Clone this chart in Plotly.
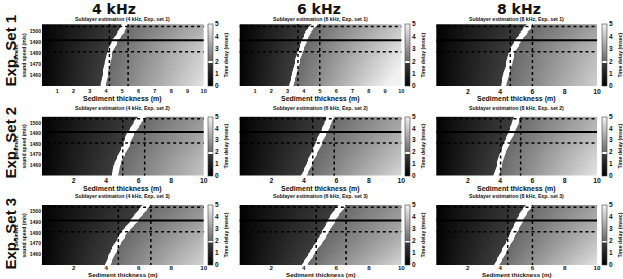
import numpy as np
import plotly.graph_objects as go
from plotly.subplots import make_subplots

# ---------------- data ----------------
freq_labels = ["4 kHz", "6 kHz", "8 kHz"]
freq_short = ["4", "6", "8"]
set_labels = ["Exp. Set 1", "Exp. Set 2", "Exp. Set 3"]

thickness = np.round(np.arange(0.05, 10.0001, 0.05), 3)      # m
speed = np.arange(1450, 1507, 1.0)                             # m/s

measured_delay = 1.95          # msec (white band in colour bar)
band_speeds = [1450, 1460, 1470, 1480, 1490, 1500, 1506]
# band centre thickness (m) at band_speeds, per panel [row][col]
band_r1c1 = [3.80, 3.93, 4.07, 4.20, 4.50, 4.95, 5.17]
band_r1c2 = [3.20, 3.40, 3.55, 3.75, 4.00, 4.30, 4.65]
band_r1c3 = [4.20, 4.35, 4.55, 4.70, 5.05, 5.55, 5.85]
band_r2c1 = [4.55, 4.65, 4.95, 5.25, 5.50, 5.90, 6.20]
band_r2c2 = [4.00, 4.30, 4.60, 4.88, 5.18, 5.48, 5.65]
band_r2c3 = [3.75, 3.95, 4.12, 4.38, 4.68, 4.92, 5.05]
band_r3c1 = [4.10, 4.35, 4.70, 5.10, 5.65, 6.15, 6.45]
band_r3c2 = [4.05, 4.45, 4.90, 5.30, 5.65, 6.05, 6.35]
band_r3c3 = [3.80, 4.13, 4.50, 4.83, 5.15, 5.50, 5.80]
bands = [[band_r1c1, band_r1c2, band_r1c3],
         [band_r2c1, band_r2c2, band_r2c3],
         [band_r3c1, band_r3c2, band_r3c3]]

# vertical dotted markers (m)
vdot_r1 = [[4.20, 5.35], [3.64, 4.98], [4.63, 6.00]]
vdot_r2 = [[5.02, 6.37], [4.55, 5.87], [4.03, 5.27]]
vdot_r3 = [[4.75, 6.75], [4.76, 6.60], [4.47, 6.00]]
vdots = [vdot_r1, vdot_r2, vdot_r3]

# horizontal reference speeds (m/s)
speed_solid = 1491.5
speed_dotted = [1481.0, 1504.0]

xticks_fine = [1, 2, 3, 4, 5, 6, 7, 8, 9, 10]
xticks_coarse = [2, 4, 6, 8, 10]
yticks = [1460, 1470, 1480, 1490, 1500]
cbar_ticks = [0, 1, 2, 3, 4, 5]

# ---------------- layout geometry ----------------
W, H = 623, 279
col_px = [(42, 204), (240, 402), (437, 598)]
row_px = [(24.3, 86), (116.7, 175.5), (205, 265)]
cbar_x_px = [208, 405, 602]
title_y_px = [18.5, 107.5, 195.5]
xtitle_y_px = [98.5, 188.5, None]

FONT = "Liberation Sans, Arial, sans-serif"
TXT = "#111111"

colorscale = [
    [0.0, "#000000"],
    [0.373, "#3c3c3c"],
    [0.377, "#ffffff"],
    [0.402, "#ffffff"],
    [0.406, "#6a6a6a"],
    [1.0, "#f2f2f2"],
]

fig = make_subplots(rows=3, cols=3)

for r in range(3):
    for c in range(3):
        hb = np.interp(speed, band_speeds, bands[r][c])
        Z = measured_delay * (thickness[None, :] / hb[:, None]) ** 0.9
        Z = np.clip(Z, 0, 5)
        y0, y1 = row_px[r]
        fig.add_trace(go.Heatmap(
            x=thickness, y=speed, z=Z, zmin=0, zmax=5,
            colorscale=colorscale,
            colorbar=dict(
                x=cbar_x_px[c] / W, xanchor="left", xpad=0,
                y=1 - (y0 + y1) / 2 / H, yanchor="middle", ypad=0,
                len=(y1 - y0) / H, lenmode="fraction",
                thickness=5, outlinewidth=0.6, outlinecolor="#444444",
                tickvals=cbar_ticks, ticks="",
                tickfont=dict(family=FONT, size=6.5, color=TXT, weight="bold"),
                title=dict(text="Time delay (msec)", side="right",
                           font=dict(family=FONT, size=5.2, color=TXT, weight="bold")),
            ),
            hoverinfo="skip",
        ), row=r + 1, col=c + 1)
        # horizontal lines
        fig.add_trace(go.Scatter(x=[0, 10.2], y=[speed_solid] * 2, mode="lines",
                                 line=dict(color="#000000", width=2), showlegend=False),
                      row=r + 1, col=c + 1)
        for sd in speed_dotted:
            fig.add_trace(go.Scatter(x=[0, 10.2], y=[sd] * 2, mode="lines",
                                     line=dict(color="#000000", width=1.5, dash="dot"),
                                     showlegend=False), row=r + 1, col=c + 1)
        for vx in vdots[r][c]:
            fig.add_trace(go.Scatter(x=[vx, vx], y=[1449, 1507], mode="lines",
                                     line=dict(color="#000000", width=1.5, dash="dot"),
                                     showlegend=False), row=r + 1, col=c + 1)

        idx = r * 3 + c + 1
        xa = "xaxis" if idx == 1 else f"xaxis{idx}"
        ya = "yaxis" if idx == 1 else f"yaxis{idx}"
        x0p, x1p = col_px[c]
        fine = (r == 0 and c < 2)
        fig.layout[xa].update(
            domain=[x0p / W, x1p / W], range=[0.05, 10.0],
            tickvals=xticks_fine if fine else xticks_coarse,
            tickfont=dict(family=FONT, size=5.5 if fine else (6.8 if r < 2 else 6.2),
                          color=TXT, weight="bold"),
            ticklabelstandoff=0 if r < 2 else -2,
            showgrid=True, gridcolor="rgba(150,150,150,0.25)", gridwidth=0.6,
            layer="above traces", zeroline=False, showline=False, ticks="",
        )
        fig.layout[ya].update(
            domain=[1 - y1 / H, 1 - y0 / H], range=[1450, 1506],
            tickvals=yticks, showticklabels=(c == 0),
            tickfont=dict(family=FONT, size=5, color=TXT, weight="bold"),
            showgrid=True, gridcolor="rgba(150,150,150,0.25)", gridwidth=0.6,
            layer="above traces", zeroline=False, showline=False, ticks="",
        )
        # subplot title
        fig.add_annotation(
            text=f"<b>Sublayer estimation ({freq_short[c]} kHz, Exp. set {r + 1})</b>",
            x=(x0p + x1p) / 2 / W, y=1 - title_y_px[r] / H, xref="paper", yref="paper",
            showarrow=False, xanchor="center", yanchor="middle", borderpad=0,
            font=dict(family=FONT, size=5.2, color=TXT))
        # x-axis title
        if r < 2:
            fig.add_annotation(
                text="<b>Sediment thickness (m)</b>",
                x=(x0p + x1p) / 2 / W, y=1 - xtitle_y_px[r] / H, xref="paper", yref="paper",
                showarrow=False, xanchor="center", yanchor="middle", borderpad=0,
                font=dict(family=FONT, size=7, color=TXT))
        else:
            fig.add_annotation(
                text="<b>Sediment thickness (m)</b>",
                x=(x0p + x1p) / 2 / W, y=0.0, xref="paper", yref="paper",
                showarrow=False, xanchor="center", yanchor="bottom", borderpad=0,
                font=dict(family=FONT, size=6.2, color=TXT))

# column titles
col_title_x = [114, 320, 520]
for c in range(3):
    fig.add_annotation(text=f"<b>{freq_labels[c]}</b>", x=col_title_x[c] / W, y=1.0,
                       xref="paper", yref="paper", showarrow=False,
                       xanchor="center", yanchor="top", borderpad=0,
                       font=dict(family="DejaVu Sans, sans-serif", size=14, color=TXT))

# row labels and y titles
row_label_y = [51, 143, 234]
for r in range(3):
    fig.add_annotation(text=f"<b>{set_labels[r]}</b>", x=0.0, y=1 - row_label_y[r] / H,
                       xref="paper", yref="paper", showarrow=False, textangle=-90,
                       xanchor="left", yanchor="middle", borderpad=0,
                       font=dict(family=FONT, size=15, color=TXT))
    y0, y1 = row_px[r]
    fig.add_annotation(text="<b>Sediment</b>", x=15.8 / W,
                       y=1 - (y0 + y1) / 2 / H, xref="paper", yref="paper",
                       showarrow=False, textangle=-90, xanchor="center", yanchor="middle",
                       borderpad=0, font=dict(family=FONT, size=5, color=TXT))
    fig.add_annotation(text="<b>sound speed (m/s)</b>", x=24.5 / W,
                       y=1 - (y0 + y1) / 2 / H, xref="paper", yref="paper",
                       showarrow=False, textangle=-90, xanchor="center", yanchor="middle",
                       borderpad=0, font=dict(family=FONT, size=5, color=TXT))

fig.update_layout(
    template="none",
    width=W, height=H, margin=dict(l=0, r=0, t=0, b=0),
    paper_bgcolor="white", plot_bgcolor="white", showlegend=False,
    font=dict(family=FONT, color=TXT),
)

fig.write_html("out.html")
